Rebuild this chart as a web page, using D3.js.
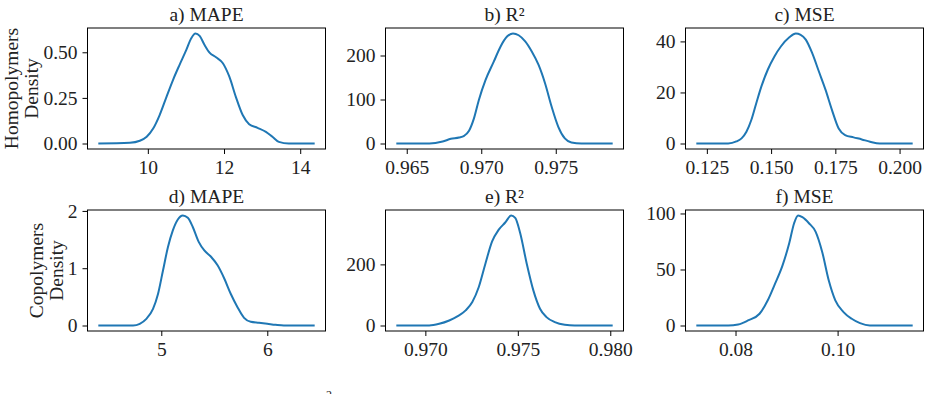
<!DOCTYPE html>
<html>
<head>
<meta charset="utf-8">
<script src="https://cdn.jsdelivr.net/npm/d3@7"></script>
<style>
  body { margin: 0; background: #fff; }
  svg { display: block; font-family: "Liberation Serif", "DejaVu Serif", serif; }
</style>
</head>
<body>
<svg id="chart" width="931" height="394"></svg>
<script>
// KDE curves (x value, density)
const homoMapeX = [8.70, 9.53, 9.79, 9.97, 10.14, 10.31, 10.49, 10.66, 10.83, 11.01, 11.14, 11.25, 11.36, 11.49, 11.62, 11.79, 11.97, 12.14, 12.31, 12.49, 12.66, 12.88, 13.10, 13.27, 13.44, 13.70, 14.38];
const homoMapeY = [0, 0.004, 0.015, 0.037, 0.082, 0.156, 0.256, 0.348, 0.430, 0.513, 0.577, 0.603, 0.590, 0.540, 0.498, 0.473, 0.440, 0.366, 0.256, 0.156, 0.106, 0.086, 0.064, 0.037, 0.009, 0, 0];

const homoR2X = [0.9643, 0.96652, 0.96741, 0.96796, 0.96851, 0.96885, 0.96918, 0.96951, 0.96984, 0.97029, 0.97084, 0.97129, 0.97173, 0.97213, 0.97251, 0.97295, 0.97339, 0.97384, 0.97428, 0.97472, 0.97517, 0.97561, 0.97605, 0.97672, 0.97882];
const homoR2Y = [0, 0, 4.6, 10.6, 13.7, 17.5, 28.9, 57, 98.9, 144.5, 186, 220, 243, 250, 246, 232, 209, 179, 137, 84, 38, 11.4, 2.3, 0, 0];

const homoMseX = [0.1209, 0.1333, 0.1365, 0.1385, 0.1404, 0.1423, 0.1442, 0.1462, 0.1487, 0.1513, 0.1538, 0.1571, 0.1596, 0.1615, 0.1635, 0.1660, 0.1686, 0.1712, 0.1737, 0.1763, 0.1788, 0.1821, 0.1853, 0.1885, 0.1923, 0.2051];
const homoMseY = [0, 0, 0.8, 2, 4.6, 9.2, 15.7, 22.3, 28.9, 34.1, 38.0, 41.6, 43.1, 42.6, 40.7, 35.4, 28.2, 21.0, 13.1, 5.9, 3.3, 2.4, 1.6, 0.7, 0, 0];

const coMapeX = [4.406, 4.734, 4.797, 4.859, 4.922, 4.969, 5.016, 5.063, 5.109, 5.156, 5.203, 5.25, 5.297, 5.353, 5.406, 5.469, 5.531, 5.594, 5.656, 5.719, 5.781, 5.844, 5.922, 6.0, 6.078, 6.156, 6.447];
const coMapeY = [0, 0, 0.03, 0.117, 0.29, 0.55, 0.96, 1.37, 1.66, 1.85, 1.92, 1.88, 1.72, 1.46, 1.31, 1.20, 1.05, 0.82, 0.55, 0.32, 0.134, 0.064, 0.047, 0.03, 0.012, 0, 0];

const coR2X = [0.96843, 0.97021, 0.97075, 0.97129, 0.97173, 0.97218, 0.97254, 0.97289, 0.97325, 0.97361, 0.97396, 0.97432, 0.97464, 0.97486, 0.97513, 0.97548, 0.97584, 0.97620, 0.97655, 0.97700, 0.97754, 0.97807, 0.98013];
const coR2Y = [0, 0, 5.5, 16.5, 29.7, 49.5, 77, 126, 203, 275, 313, 337, 360, 352, 302, 203, 115, 55, 27.5, 11, 2.2, 0, 0];

const coMseX = [0.07232, 0.07858, 0.08052, 0.08245, 0.08471, 0.08632, 0.08761, 0.08923, 0.09052, 0.09148, 0.09226, 0.09310, 0.09439, 0.09568, 0.09697, 0.09826, 0.09955, 0.10116, 0.10277, 0.10439, 0.10632, 0.11471];
const coMseY = [0, 0, 0.9, 4.5, 10.5, 22.5, 35.9, 53.9, 73.4, 91.3, 98.2, 96.7, 91.3, 83.8, 65.9, 40.4, 22.5, 12, 6, 2.1, 0, 0];

// panel titles, row labels and ticks
const titles = ["a) MAPE", "b) R\u00b2", "c) MSE", "d) MAPE", "e) R\u00b2", "f) MSE"];
const rowLabels = ["Homopolymers", "Copolymers"];
const xTicks = [[10, 12, 14], [0.965, 0.970, 0.975], [0.125, 0.150, 0.175, 0.200],
                [5, 6], [0.970, 0.975, 0.980], [0.08, 0.10]];
const xFormats = ["d", ".3f", ".3f", "d", ".3f", ".2f"];
const yTicks = [[0, 0.25, 0.5], [0, 100, 200], [0, 20, 40],
                [0, 1, 2], [0, 200], [0, 50, 100]];
const yFormats = [".2f", "d", "d", "d", "d", "d"];

const panels = [
    {xs: homoMapeX, ys: homoMapeY}, {xs: homoR2X, ys: homoR2Y}, {xs: homoMseX, ys: homoMseY},
    {xs: coMapeX, ys: coMapeY}, {xs: coR2X, ys: coR2Y}, {xs: coMseX, ys: coMseY}
];

// layout
const colLeft = [87.5, 385.5, 685.5];
const rowTop = [28, 210];
const pw = 238, ph = 121;
const lineColor = "#1f77b4";
const fontSize = 19.5;

const svg = d3.select("#chart");

// matplotlib style 5% margins
function padded(ext) {
    let span = ext[1] - ext[0];
    return [ext[0] - 0.05 * span, ext[1] + 0.05 * span];
}

panels.forEach((p, i) => {
    let col = i % 3, row = Math.floor(i / 3);
    let g = svg.append("g")
        .attr("transform", `translate(${colLeft[col]},${rowTop[row]})`);

    let x = d3.scaleLinear().domain(padded(d3.extent(p.xs))).range([0, pw]);
    let y = d3.scaleLinear().domain(padded([0, d3.max(p.ys)])).range([ph, 0]);

    let pts = p.xs.map((v, k) => [v, p.ys[k]]);

    g.append("path")
        .datum(pts)
        .attr("fill", "none")
        .attr("stroke", lineColor)
        .attr("stroke-width", 2)
        .attr("d", d3.line()
            .x((d) => x(d[0]))
            .y((d) => y(d[1]))
            .curve(d3.curveMonotoneX));

    g.append("rect")
        .attr("width", pw)
        .attr("height", ph)
        .attr("fill", "none")
        .attr("stroke", "#000")
        .attr("stroke-width", 1);

    let xAxis = g.append("g")
        .attr("transform", `translate(0,${ph})`)
        .call(d3.axisBottom(x).tickValues(xTicks[i]).tickFormat(d3.format(xFormats[i]))
            .tickSize(5).tickPadding(6));
    let yAxis = g.append("g")
        .call(d3.axisLeft(y).tickValues(yTicks[i]).tickFormat(d3.format(yFormats[i]))
            .tickSize(5).tickPadding(5));

    [xAxis, yAxis].forEach((ax) => {
        ax.select(".domain").remove();
        ax.selectAll("line").attr("stroke", "#000");
        ax.selectAll("text")
            .attr("fill", "#222")
            .style("font-size", fontSize + "px")
            .style("font-family", "'Liberation Serif', serif");
    });

    g.append("text")
        .attr("x", pw / 2)
        .attr("y", -7)
        .attr("text-anchor", "middle")
        .attr("fill", "#222")
        .style("font-size", fontSize + "px")
        .text(titles[i]);

    if (col === 0) {
        // place the two-line label just left of the widest y tick label
        let tickW = d3.max(yAxis.selectAll("text").nodes(), (n) => n.getBBox().width);
        let base2 = -10 - tickW - 5;
        let lbl = g.append("g")
            .attr("fill", "#222")
            .style("font-size", fontSize + "px");
        lbl.append("text")
            .attr("transform", `translate(${base2 - 20},${ph / 2}) rotate(-90)`)
            .attr("text-anchor", "middle")
            .text(rowLabels[row]);
        lbl.append("text")
            .attr("transform", `translate(${base2},${ph / 2}) rotate(-90)`)
            .attr("text-anchor", "middle")
            .text("Density");
    }
});

// clipped superscript fragment at the bottom edge
svg.append("text")
    .attr("x", 326)
    .attr("y", 399)
    .attr("fill", "#222")
    .style("font-size", "12px")
    .text("2");
</script>
</body>
</html>
